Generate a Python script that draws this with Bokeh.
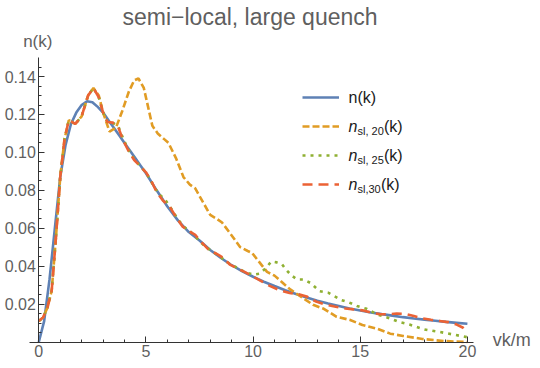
from bokeh.plotting import figure
from bokeh.models import (Range1d, FixedTicker, Label, Legend, LegendItem,
                          NumeralTickFormatter)
from bokeh.embed import file_html
from bokeh.resources import INLINE

# ---------------- data ----------------
x_n = [0, 0.25, 0.5, 0.75, 1.0, 1.25, 1.5, 1.75, 2.0, 2.25, 2.5, 2.75, 3.0, 3.25,
       3.5, 3.75, 4.0, 4.25, 4.5, 4.75, 5.0, 5.5, 6.0, 6.5, 7.0, 7.5, 8.0, 8.5, 9.0,
       9.5, 10, 10.5, 11, 11.5, 12, 12.5, 13, 13.5, 14, 14.5, 15, 15.5, 16, 16.5,
       17, 17.5, 18, 18.5, 19, 19.5, 20]
y_n = [0.0, 0.011, 0.033, 0.060, 0.087, 0.104, 0.115, 0.121, 0.125, 0.127, 0.1265,
       0.124, 0.121, 0.117, 0.113, 0.109, 0.105, 0.101, 0.097, 0.093, 0.089, 0.080,
       0.0715, 0.064, 0.058, 0.0535, 0.0485, 0.0443, 0.0405, 0.0373, 0.0344, 0.0318,
       0.0295, 0.0273, 0.0253, 0.0235, 0.0218, 0.0203, 0.0190, 0.0177, 0.0166,
       0.0156, 0.0147, 0.0139, 0.0131, 0.0124, 0.0118, 0.0112, 0.0106, 0.0101, 0.0096]

x_sl20 = [0, 0.2, 0.4, 0.6, 0.8, 1.0, 1.2, 1.4, 1.7, 2.0, 2.3, 2.55, 2.8, 3.0, 3.3,
          3.6, 3.9, 4.2, 4.45, 4.65, 4.9, 5.1, 5.3, 5.55, 5.85, 6.05, 6.4, 6.75, 7.05,
          7.3, 7.7, 8.0, 8.3, 8.55, 8.95, 9.4, 9.75, 9.95, 10.3, 10.65, 11.0, 11.3,
          11.75, 12.35, 12.8, 13.3, 13.9, 14.5, 15.1, 15.8, 16.4, 17.0, 17.9, 18.9, 20]
y_sl20 = [0.011, 0.013, 0.018, 0.027, 0.055, 0.087, 0.107, 0.117, 0.115, 0.119,
          0.130, 0.134, 0.130, 0.121, 0.111, 0.113, 0.122, 0.132, 0.138, 0.139,
          0.134, 0.124, 0.114, 0.110, 0.107, 0.105, 0.097, 0.087, 0.083, 0.081,
          0.073, 0.067, 0.065, 0.063, 0.057, 0.050, 0.048, 0.047, 0.042, 0.037,
          0.035, 0.032, 0.0276, 0.023, 0.0196, 0.0175, 0.0133, 0.0117, 0.009, 0.007,
          0.0044, 0.0032, 0.0016, 0.0005, 0.0]

x_sl25 = [0, 0.2, 0.4, 0.6, 0.8, 1.0, 1.2, 1.4, 1.7, 2.0, 2.3, 2.55, 2.8, 3.0, 3.2,
          3.45, 3.7, 3.95, 4.2, 4.45, 4.75, 5.0, 5.3, 5.6, 5.9, 6.2, 6.5, 6.8, 7.1,
          7.4, 7.7, 8.0, 8.4, 8.8, 9.2, 9.6, 10.0, 10.3, 10.6, 10.85, 11.1, 11.35,
          11.55, 11.8, 12.05, 12.35, 12.7, 13.1, 13.5, 14.1, 14.45, 14.85, 15.3,
          15.8, 16.4, 16.8, 17.3, 18.0, 18.7, 19.4, 20]
y_sl25 = [0.011, 0.013, 0.018, 0.027, 0.055, 0.087, 0.107, 0.117, 0.115, 0.119,
          0.130, 0.134, 0.129, 0.121, 0.116, 0.1155, 0.114, 0.107, 0.101, 0.0965,
          0.0925, 0.0895, 0.0835, 0.078, 0.075, 0.070, 0.0645, 0.0605, 0.058,
          0.0545, 0.051, 0.0485, 0.0455, 0.042, 0.0395, 0.037, 0.0355, 0.036, 0.039,
          0.0425, 0.042, 0.041, 0.038, 0.035, 0.033, 0.033, 0.031, 0.0268, 0.026,
          0.0222, 0.021, 0.019, 0.0175, 0.0145, 0.0124, 0.0106, 0.0092, 0.0066,
          0.0053, 0.0038, 0.0025]

x_sl30 = [0, 0.2, 0.4, 0.6, 0.8, 1.0, 1.2, 1.4, 1.7, 2.0, 2.3, 2.55, 2.8, 3.0, 3.2,
          3.45, 3.7, 3.95, 4.2, 4.45, 4.75, 5.0, 5.25, 5.5, 5.8, 6.1, 6.4, 6.7, 7.0,
          7.3, 7.6, 7.9, 8.3, 8.6, 8.9, 9.3, 9.6, 10.0, 10.4, 10.8, 11.2, 11.7, 12.1,
          12.5, 12.9, 13.3, 13.8, 14.3, 14.7, 15.1, 15.5, 15.9, 16.3, 16.7, 17.1,
          17.5, 17.9, 18.3, 18.7, 19.1, 19.5, 19.8, 20]
y_sl30 = [0.011, 0.013, 0.018, 0.027, 0.055, 0.087, 0.107, 0.117, 0.115, 0.119,
          0.130, 0.134, 0.129, 0.121, 0.116, 0.1157, 0.1135, 0.106, 0.1005, 0.096,
          0.0925, 0.0895, 0.085, 0.079, 0.0745, 0.0715, 0.066, 0.061, 0.0585, 0.0565,
          0.0525, 0.049, 0.0465, 0.0445, 0.041, 0.0385, 0.037, 0.0345, 0.032, 0.0295,
          0.0275, 0.0258, 0.0252, 0.024, 0.0215, 0.020, 0.0187, 0.0177, 0.0172,
          0.0167, 0.0155, 0.0147, 0.0146, 0.0150, 0.0148, 0.0137, 0.0125, 0.0117,
          0.0111, 0.0105, 0.0092, 0.0075, 0.0055]

x_ticks = [0, 5, 10, 15, 20]
x_minor = [1, 2, 3, 4, 6, 7, 8, 9, 11, 12, 13, 14, 16, 17, 18, 19]
y_ticks = [0.02, 0.04, 0.06, 0.08, 0.10, 0.12, 0.14]
y_minor = [0.005, 0.01, 0.015, 0.025, 0.03, 0.035, 0.045, 0.05, 0.055, 0.065, 0.07,
           0.075, 0.085, 0.09, 0.095, 0.105, 0.11, 0.115, 0.125, 0.13, 0.135, 0.145]

title_text = "semi\u2212local, large quench"
x_label = "vk/m"
y_label = "n(k)"
legend_sub = ["", "sl, 20", "sl, 25", "sl,30"]

# ---------------- geometry / styling ----------------
BLUE, ORANGE, GREEN, RED = "#5E81B5", "#E19C24", "#8FB032", "#EB6235"
FONT = "Liberation Sans"
GREY = "#5f5f5f"

W, H = 540, 368
B_TOP = 30                  # room for the title; frame fills the rest
X0_PX, Y0_PX = 38.3, 341.5  # page position of the origin
PX_X = 21.43                # pixels per x unit
PX_Y = 1896.0               # pixels per y unit
X_AXIS = (-0.43, 20.3)
Y_AXIS = (0, 0.15)

x_start, x_end = -X0_PX / PX_X, (W - X0_PX) / PX_X
y_start, y_end = -(H - Y0_PX) / PX_Y, (Y0_PX - B_TOP) / PX_Y

p = figure(width=W, height=H, output_backend="svg", toolbar_location=None,
           x_range=Range1d(x_start, x_end), y_range=Range1d(y_start, y_end),
           min_border_left=0, min_border_right=0, min_border_top=B_TOP,
           min_border_bottom=0, title=title_text)
p.outline_line_color = None
p.grid.visible = False
p.background_fill_color = "white"
p.border_fill_color = "white"

p.title.align = "left"
p.title.offset = 122
p.title.text_font = FONT
p.title.text_font_size = "23px"
p.title.text_font_style = "normal"
p.title.text_color = GREY
p.title.standoff = 2

for ax in (p.xaxis[0], p.yaxis[0]):
    ax.fixed_location = 0
    ax.axis_line_color = "#333333"
    ax.axis_line_width = 1
    ax.major_tick_line_color = "#333333"
    ax.minor_tick_line_color = "#333333"
    ax.major_tick_out = 0
    ax.minor_tick_out = 0
    ax.major_tick_in = 6
    ax.minor_tick_in = 3
    ax.major_label_text_font = FONT
    ax.major_label_text_font_size = "16px"
    ax.major_label_text_color = GREY
    ax.major_label_standoff = 3

p.xaxis.bounds = X_AXIS
p.yaxis.bounds = Y_AXIS
p.xaxis.ticker = FixedTicker(ticks=x_ticks, minor_ticks=x_minor)
p.yaxis.ticker = FixedTicker(ticks=y_ticks, minor_ticks=y_minor)
p.yaxis.formatter = NumeralTickFormatter(format="0.00")

r_n = p.line(x_n, y_n, line_color=BLUE, line_width=2.6)
r20 = p.line(x_sl20, y_sl20, line_color=ORANGE, line_width=2.6, line_dash="7 3")
r25 = p.line(x_sl25, y_sl25, line_color=GREEN, line_width=2.6, line_dash="3 5")
r30 = p.line(x_sl30, y_sl30, line_color=RED, line_width=2.6, line_dash="10 6")

# axis labels
p.add_layout(Label(x=0, y=Y_AXIS[1], text=y_label, text_align="center",
                   text_baseline="middle", y_offset=16, x_offset=-1, text_font=FONT,
                   text_font_size="17px", text_color=GREY))
p.add_layout(Label(x=X_AXIS[1], y=0, text=x_label, text_align="left",
                   text_baseline="middle", x_offset=19, y_offset=2, text_font=FONT,
                   text_font_size="18px", text_color=GREY))

# legend: glyph samples via Legend, rich text via Labels
ROW_C = [97, 126, 155, 184]          # row centres, page px
legend = Legend(items=[LegendItem(label=" ", renderers=[r]) for r in (r_n, r20, r25, r30)],
                location=(302, H - (ROW_C[-1] + 10)), glyph_width=37, glyph_height=20,
                label_height=20, label_width=1, label_standoff=0, spacing=9,
                padding=0, margin=0, border_line_alpha=0, background_fill_alpha=0,
                label_text_font_size="1px")
p.add_layout(legend)

TX = (348 - X0_PX) / PX_X
row_y = [(Y0_PX - c) / PX_Y for c in ROW_C]
TXT = "#1a1a1a"
p.add_layout(Label(x=TX, y=row_y[0], text="n(k)", text_baseline="middle",
                   text_font=FONT, text_font_size="16px", text_color=TXT))
for yy, sub in zip(row_y[1:], legend_sub[1:]):
    p.add_layout(Label(x=TX, y=yy, text="n", text_baseline="middle",
                       text_font=FONT, text_font_size="16px",
                       text_font_style="italic", text_color=TXT))
    p.add_layout(Label(x=TX, y=yy, text=sub, text_baseline="middle", x_offset=9,
                       y_offset=-4, text_font=FONT, text_font_size="11px",
                       text_color=TXT))
    w = 26.5 if " " in sub else 23.5
    p.add_layout(Label(x=TX, y=yy, text="(k)", text_baseline="middle",
                       x_offset=9 + w, text_font=FONT, text_font_size="16px",
                       text_color=TXT))

open("out.html", "w").write(file_html(p, INLINE))
